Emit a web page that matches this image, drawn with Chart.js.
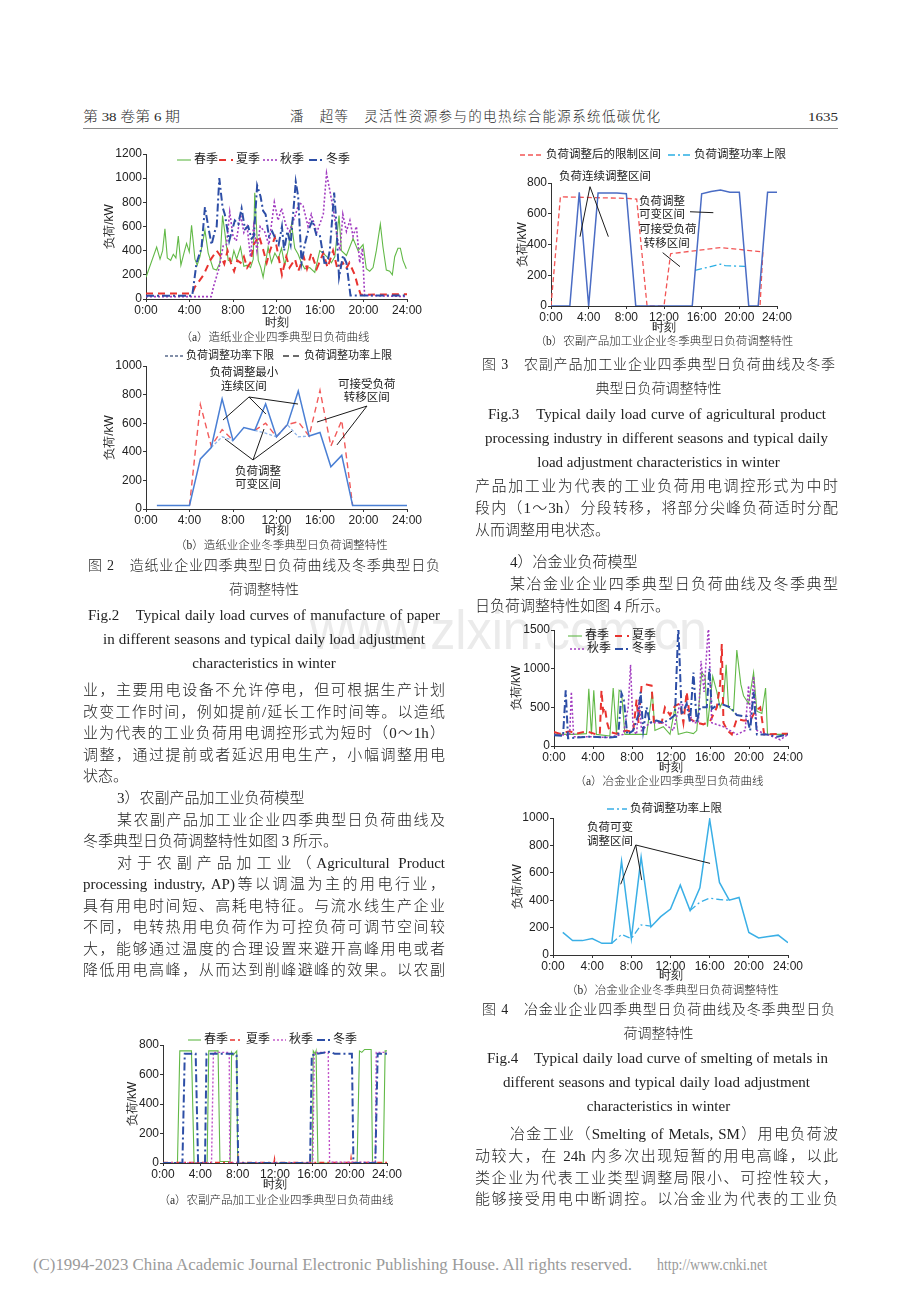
<!DOCTYPE html>
<html lang="zh">
<head>
<meta charset="utf-8">
<title>灵活性资源参与的电热综合能源系统低碳优化</title>
<script src="https://cdn.jsdelivr.net/npm/chart.js@4.4.0/dist/chart.umd.min.js"></script>
<style>
  html, body { margin: 0; padding: 0; background: #fff; }
  #page { position: relative; width: 920px; height: 1302px; overflow: hidden;
          font-family: 'Liberation Serif', 'Noto Sans CJK SC', serif; color: #222; }
  .ln { position: absolute; white-space: nowrap; line-height: 20px; height: 20px; z-index: 2; }
  .hd { font-size: 13.5px; color: #2a2a2a; font-weight: 300; }
  .body { font-size: 15px; font-weight: 300; }
  .cap { font-size: 14px; font-weight: 300; }
  .en { font-size: 15px; }
  .sub { font-size: 11.5px; font-weight: 300; }
  .ft { font-size: 16px; color: #9a9a9a; }
  .wm { font-family: 'Liberation Sans', sans-serif; font-size: 56px; color: #ebebeb; line-height: 60px; height: 60px; z-index: 0; }
  .rule { position: absolute; left: 83px; top: 128px; width: 755px; height: 1px; background: #8a8a8a; }
  canvas { position: absolute; z-index: 1; }
</style>
</head>
<body>
<div id="page"><div class="rule"></div></div>
<script>
const FONT = "'Liberation Serif', 'Noto Sans CJK SC', serif";

// ---------- Fig.2(a) paper industry, four seasons  [hour, kW] ----------
const paperSpring = [[0,180],[0.98,430],[1.29,330],[1.53,400],[1.74,580],[1.96,340],[2.27,320],[2.51,370],[2.75,340],[2.97,520],[3.21,280],[3.49,380],[3.73,460],[3.98,390],[4.19,610],[4.5,330],[4.71,280],[4.96,350],[5.42,570],[5.72,380],[6.18,250],[6.49,240],[6.8,300],[7.04,690],[7.25,550],[7.56,320],[7.87,310],[8.08,400],[8.33,330],[8.69,430],[9.0,270],[9.3,280],[9.61,260],[9.86,330],[10.0,880],[10.32,320],[10.56,260],[10.77,180],[11.23,430],[11.54,300],[11.85,380],[12.15,330],[12.46,420],[12.76,280],[13.1,420],[13.38,620],[13.68,420],[13.99,370],[14.29,300],[14.6,250],[15.06,260],[15.52,220],[15.98,400],[16.28,380],[16.74,340],[17.05,300],[17.36,350],[17.75,690],[17.97,400],[18.43,360],[19.04,500],[19.5,400],[19.96,450],[20.26,250],[20.57,230],[20.88,260],[21.18,400],[21.55,620],[21.79,430],[22.1,240],[22.41,230],[22.65,200],[22.87,350],[23.17,420],[23.39,420],[23.63,320],[23.94,250]];
const paperSummer = [[0,45],[4.25,45],[4.5,100],[5.3,200],[5.9,320],[6.5,400],[6.9,350],[7.2,290],[7.5,400],[7.8,300],[8.1,230],[8.4,320],[8.7,300],[9.0,350],[9.3,260],[9.6,300],[9.9,450],[10.4,520],[10.8,400],[11.1,300],[11.4,400],[11.85,510],[12.5,200],[12.9,350],[13.2,260],[13.7,330],[14.0,230],[14.5,350],[14.8,250],[15.2,380],[15.7,250],[16.3,380],[16.7,260],[17.2,400],[17.6,250],[18.1,300],[18.4,250],[18.7,300],[19.2,200],[19.5,100],[19.75,35],[24,40]];
const paperAutumn = [[0,20],[6.0,20],[6.2,100],[6.7,250],[7.1,440],[7.4,450],[7.7,720],[8.0,520],[8.3,480],[8.7,700],[9.0,550],[9.3,600],[9.6,350],[9.9,600],[10.2,400],[10.5,600],[10.9,560],[11.3,450],[11.8,800],[12.15,650],[12.46,750],[12.9,600],[13.2,560],[13.68,680],[14.1,800],[14.45,770],[14.9,600],[15.2,700],[15.7,550],[16.3,700],[16.6,1040],[16.9,900],[17.3,700],[17.6,500],[17.85,400],[18.1,700],[18.43,560],[18.75,650],[19.04,520],[19.35,600],[19.65,300],[19.9,420],[20.1,30],[24,20]];
const paperWinter = [[0,27],[4.25,27],[4.65,300],[5.1,420],[5.42,760],[5.72,600],[6.03,450],[6.33,560],[6.5,600],[6.74,1000],[7.04,760],[7.25,700],[7.65,480],[8.17,650],[8.48,620],[8.79,750],[9.1,580],[9.4,600],[9.7,500],[9.92,520],[10.22,940],[10.53,850],[10.77,730],[11.0,700],[11.3,520],[11.6,560],[11.9,500],[12.2,450],[12.5,600],[12.7,400],[13.0,560],[13.3,450],[13.77,970],[13.99,850],[14.3,300],[14.6,450],[14.9,560],[15.3,650],[15.67,530],[15.98,530],[16.44,280],[16.74,330],[16.9,400],[17.3,880],[17.45,700],[17.75,180],[18.12,360],[18.43,300],[18.8,30],[24,30]];

// ---------- Fig.2(b) paper industry, winter adjustment (hourly) ----------
const hours = [1,2,3,4,5,6,7,8,9,10,11,12,13,14,15,16,17,18,19,20,21,22,23,24];
const paperLoad  = [25,25,25,25,350,430,770,480,570,550,735,505,590,825,510,535,295,375,25,25,25,25,25,25];
const paperUpper = [null,null,null,25,730,440,555,480,null,550,600,505,590,610,510,830,440,620,25,null,null,null,null,null];
const paperLower = [null,null,null,null,null,430,505,480,null,550,530,505,590,505,510,null,null,null,null,null,null,null,null,null];

// ---------- Fig.3(a) agricultural processing, four seasons ----------
const apSpring = [[0,0],[1.55,0],[1.8,760],[3.05,760],[3.33,0],[4.73,0],[4.9,760],[5.9,760],[6.1,10],[7.2,10],[7.35,750],[7.5,730],[7.9,760],[8.0,0],[16.0,0],[16.1,760],[16.3,740],[16.4,760],[16.6,0],[20.8,0],[21.05,760],[21.3,750],[21.6,770],[22.3,770],[22.45,0],[23.6,0],[23.8,760],[24,760]];
const apSummer = [[0,3],[8.0,3],[8.05,30],[8.1,3],[11.9,3],[11.95,25],[12.0,3],[20.1,3],[20.15,30],[20.2,3],[24,3]];
const apAutumn = [[0,0],[5.2,0],[5.4,750],[7.1,750],[7.15,0],[16.05,0],[16.2,740],[16.5,750],[17.7,750],[17.85,5],[22.75,5],[22.85,750],[24,750]];
const apWinter = [[0,0],[2.08,0],[2.33,740],[3.5,740],[3.76,0],[4.5,0],[4.66,740],[7.6,740],[7.88,730],[8.06,0],[15.76,0],[15.94,730],[16.5,740],[17.9,755],[18.4,740],[20.24,740],[20.4,0],[22.75,0],[23.0,740],[24,740]];

// ---------- Fig.3(b) agricultural processing, winter adjustment ----------
const apLoad  = [[0,0],[2,0],[3,740],[4,0],[5,735],[6,735],[7,735],[8,730],[9,0],[15,0],[16,730],[17,745],[18,755],[19,740],[20,740],[21,0],[22,0],[23,740],[24,740]];
const apLimit = [[0,0],[1.0,710],[8.1,700],[9.1,695],[10.2,0],[12.0,0],[12.7,340],[18,380],[22.5,352],[22.2,0]];
const apUpper = [[15.3,232],[18,272],[18.5,262],[20.6,258]];

// ---------- Fig.4(a) smelting of metals, four seasons ----------
const smSpring = [[0,150],[1.95,150],[3.33,160],[3.57,740],[3.84,150],[4.08,720],[4.35,150],[5.73,130],[6.07,750],[6.41,150],[6.68,720],[6.92,700],[7.27,150],[8.47,150],[9.5,150],[10.08,700],[10.35,200],[11.21,250],[11.9,150],[12.41,500],[12.75,150],[13.61,180],[14.3,160],[14.64,200],[15.15,950],[15.5,900],[15.74,250],[16.28,900],[16.7,700],[17.04,500],[17.38,600],[17.66,1050],[17.9,500],[18.41,450],[18.75,1240],[19.16,800],[19.44,650],[19.95,550],[20.47,950],[20.81,450],[21.32,420],[21.7,750],[21.9,150],[24,150]];
const smSummer = [[0,180],[0.58,160],[1.61,190],[2.3,160],[3.33,190],[4.35,150],[4.7,150],[4.87,720],[5.04,450],[5.21,500],[5.45,300],[5.73,180],[6.4,160],[7.44,200],[8.12,180],[8.47,600],[8.67,300],[8.98,780],[9.32,800],[10.01,780],[10.25,300],[11.04,300],[11.38,500],[11.9,400],[12.41,520],[12.92,550],[13.27,300],[13.61,700],[13.95,350],[14.64,300],[15.32,280],[16.01,320],[16.7,500],[17.04,800],[17.21,1320],[17.38,300],[17.79,200],[18.24,150],[18.75,350],[19.44,330],[20.12,330],[20.64,450],[21.15,500],[21.56,150],[24,160]];
const smAutumn = [[0,150],[1.61,140],[1.78,700],[2.02,120],[3.67,120],[5.38,110],[7.1,150],[7.61,500],[7.85,1050],[8.12,200],[8.47,150],[8.71,600],[8.98,200],[9.84,300],[11.21,300],[12.24,200],[12.92,550],[13.61,500],[14.3,300],[14.81,300],[15.08,1100],[15.39,700],[15.84,1560],[16.18,300],[17.38,250],[18.07,200],[18.75,150],[19.61,200],[19.95,780],[20.19,300],[20.47,900],[20.81,200],[21.84,150],[22.87,100],[23.2,80],[24,150]];
const smWinter = [[0,140],[0.93,130],[1.2,720],[1.44,100],[3.67,120],[5.73,110],[6.58,120],[6.92,680],[7.16,600],[7.51,150],[8.12,200],[8.64,400],[8.88,700],[9.15,200],[9.5,500],[9.84,300],[10.52,330],[11.21,300],[11.9,350],[12.41,400],[12.75,1550],[13.1,400],[13.61,550],[13.95,300],[14.3,950],[14.64,300],[14.98,500],[15.67,500],[15.94,1000],[16.18,480],[17.04,550],[18.07,500],[18.75,400],[19.78,380],[20.12,200],[20.47,700],[20.81,150],[21.84,150],[22.87,120],[24,150]];

// ---------- Fig.4(b) smelting of metals, winter adjustment (hourly) ----------
const smLoad  = [165,105,105,120,85,85,685,120,715,205,280,335,510,325,490,990,530,400,420,165,125,135,145,90];
const smUpper = [null,null,null,null,null,85,150,120,220,210,null,null,null,325,385,415,405,400,null,null,null,null,null,null];

const pairs = arr => arr.map(([x, y]) => ({x, y}));
const byHour = vals => hours.map((h, i) => ({x: h, y: vals[i]}));

function line(label, data, color, width, dash, keyColor) {
    return {label, data, borderColor: color, backgroundColor: color, borderWidth: width, borderDash: dash || [],
            keyColor: keyColor || color, pointRadius: 0, tension: 0, fill: false, spanGaps: false};
}

// legend rows drawn at fixed spots inside each canvas
const keyRows = {
    id: 'keyRows',
    afterDraw(chart, args, opts) {
        if (!opts || !opts.rows) return;
        const ctx = chart.ctx;
        ctx.save();
        ctx.font = `${opts.size || 12}px ${FONT}`;
        ctx.textBaseline = 'middle';
        ctx.fillStyle = '#222';
        opts.rows.forEach(row => {
            row.items.forEach(([idx, x]) => {
                const ds = chart.data.datasets[idx];
                ctx.save();
                ctx.strokeStyle = ds.keyColor;
                ctx.lineWidth = ds.borderWidth;
                ctx.setLineDash(ds.borderDash || []);
                ctx.beginPath();
                ctx.moveTo(x, row.y);
                ctx.lineTo(x + row.sample, row.y);
                ctx.stroke();
                ctx.restore();
                ctx.fillText(ds.label, x + row.sample + 3, row.y);
            });
        });
        ctx.restore();
    }
};

// leader lines and notes, placed in data units
const notes = {
    id: 'notes',
    afterDatasetsDraw(chart, args, opts) {
        if (!opts || !opts.texts) return;
        const {ctx, scales: {x, y}} = chart;
        const px = p => [x.getPixelForValue(p[0]), y.getPixelForValue(p[1])];
        ctx.save();
        ctx.strokeStyle = '#1a1a1a';
        ctx.lineWidth = 1;
        (opts.lines || []).forEach(l => {
            const a = px(l.from);
            l.to.forEach(t => {
                const b = px(t);
                ctx.beginPath();
                ctx.moveTo(a[0], a[1]);
                ctx.lineTo(b[0], b[1]);
                ctx.stroke();
            });
        });
        ctx.font = `${opts.size || 11.5}px ${FONT}`;
        ctx.fillStyle = '#1a1a1a';
        ctx.textAlign = 'center';
        ctx.textBaseline = 'middle';
        opts.texts.forEach(([s, h, v]) => {
            const p = px([h, v]);
            ctx.fillText(s, p[0], p[1]);
        });
        ctx.restore();
    }
};

function buildChart(cfg) {
    const cv = document.createElement('canvas');
    cv.width = cfg.width;
    cv.height = cfg.height;
    cv.style.left = cfg.left + 'px';
    cv.style.top = cfg.top + 'px';
    cv.style.width = cfg.width + 'px';
    cv.style.height = cfg.height + 'px';
    document.getElementById('page').appendChild(cv);
    const p = cfg.plot;
    const yw = p.l - cfg.left;
    const xh = cfg.top + cfg.height - p.b;
    const lh = 12 * 1.2;
    return new Chart(cv, {
        type: 'line',
        data: {datasets: cfg.datasets},
        options: {
            responsive: false,
            animation: false,
            devicePixelRatio: 1,
            layout: {padding: {left: 0, top: p.t - cfg.top, right: cfg.left + cfg.width - p.r, bottom: 0}},
            plugins: {
                legend: {display: false},
                tooltip: {enabled: false},
                keyRows: cfg.legend || {},
                notes: cfg.notes || {}
            },
            scales: {
                x: {
                    type: 'linear', min: 0, max: 24,
                    afterFit: s => { s.height = xh; },
                    ticks: {stepSize: 4, autoSkip: false, maxRotation: 0, padding: 1, color: '#222',
                            font: {size: 12}, callback: v => v + ':00'},
                    grid: {drawOnChartArea: false, tickLength: 3, color: '#333'},
                    border: {color: '#333'},
                    title: {display: true, text: '时刻', color: '#222', font: {size: 12},
                            padding: {top: 0, bottom: cfg.top + cfg.height - cfg.xTitleY - lh / 2}}
                },
                y: {
                    min: 0, max: cfg.yMax,
                    afterFit: s => { s.width = yw; },
                    ticks: {stepSize: cfg.yStep, padding: 1, color: '#222', font: {size: 12}, callback: v => String(v)},
                    grid: {drawOnChartArea: false, tickLength: 3, color: '#333'},
                    border: {color: '#333'},
                    title: {display: true, text: '负荷/kW', color: '#222', font: {size: 12},
                            padding: {top: cfg.yTitleX - cfg.left - lh / 2, bottom: 0}}
                }
            }
        },
        plugins: [keyRows, notes]
    });
}

const GREEN = '#62b947', RED = '#e8332f', PURPLE = '#a23cc0', NAVY = '#2d4ea6';

// Fig.2(a)
buildChart({
    left: 88, top: 145, width: 342, height: 186,
    plot: {l: 146, r: 407, t: 154, b: 299}, yTitleX: 110, xTitleY: 323,
    yMax: 1200, yStep: 200,
    datasets: [
        line('冬季', pairs(paperWinter), NAVY, 2, [8, 3, 2, 3]),
        line('秋季', pairs(paperAutumn), PURPLE, 1.6, [2, 2]),
        line('夏季', pairs(paperSummer), RED, 2, [7, 5]),
        line('春季', pairs(paperSpring), GREEN, 1.1)
    ],
    legend: {size: 12, rows: [{y: 15, sample: 14, items: [[3, 89], [2, 131], [1, 175], [0, 221]]}]}
});

// Fig.2(b)
buildChart({
    left: 88, top: 345, width: 342, height: 194,
    plot: {l: 146, r: 407, t: 366, b: 509}, yTitleX: 110, xTitleY: 531,
    yMax: 1000, yStep: 200,
    datasets: [
        line('冬季典型日负荷', byHour(paperLoad), '#4a7fd4', 1.5),
        line('负荷调整功率下限', byHour(paperLower), '#8db2e8', 1.3, [3, 2], '#5a6b8c'),
        line('负荷调整功率上限', byHour(paperUpper), '#f25a5a', 1.4, [6, 4], '#3a3a3a')
    ],
    legend: {size: 11, rows: [{y: 11, sample: 18, items: [[1, 77], [2, 195]]}]},
    notes: {
        size: 11.5,
        lines: [
            {from: [9.47, 783], to: [[7.08, 622], [11.03, 664], [13.98, 734]]},
            {from: [9.84, 343], to: [[7.26, 490], [10.85, 559], [13.43, 545]]},
            {from: [20.32, 720], to: [[15.72, 608], [17.56, 448]]}
        ],
        texts: [['负荷调整最小', 9.0, 951], ['连续区间', 9.0, 853], ['负荷调整', 10.3, 259], ['可变区间', 10.3, 168],
                ['可接受负荷', 20.3, 867], ['转移区间', 20.3, 776]]
    }
});

// Fig.3(b)
buildChart({
    left: 500, top: 140, width: 312, height: 196,
    plot: {l: 551, r: 777, t: 183, b: 306}, yTitleX: 523, xTitleY: 328,
    yMax: 800, yStep: 200,
    datasets: [
        line('冬季典型日负荷', pairs(apLoad), '#4a6cc4', 1.5),
        line('负荷调整后的限制区间', pairs(apLimit), '#f25555', 1.3, [5, 3]),
        line('负荷调整功率上限', pairs(apUpper), '#2aaee4', 1.3, [7, 3, 2, 3])
    ],
    legend: {size: 11.5, rows: [{y: 15, sample: 23, items: [[1, 20], [2, 168]]}]},
    notes: {
        size: 11.5,
        lines: [
            {from: [4.14, 776], to: [[3.08, 451], [6.09, 451]]},
            {from: [14.76, 613], to: [[17.24, 607]]},
            {from: [11.86, 347], to: [[13.7, 256]]}
        ],
        texts: [['负荷连续调整区间', 5.73, 839], ['负荷调整', 11.8, 676], ['可变区间', 11.8, 592],
                ['可接受负荷', 12.4, 494], ['转移区间', 12.3, 403]]
    }
});

// Fig.3(a)
buildChart({
    left: 110, top: 1030, width: 300, height: 163,
    plot: {l: 163, r: 387, t: 1045, b: 1163}, yTitleX: 133, xTitleY: 1185,
    yMax: 800, yStep: 200,
    datasets: [
        line('冬季', pairs(apWinter), NAVY, 2, [8, 3, 2, 3]),
        line('秋季', pairs(apAutumn), '#c050c8', 1.4, [2, 2]),
        line('夏季', pairs(apSummer), RED, 1.5, [5, 3, 2, 3]),
        line('春季', pairs(apSpring), GREEN, 1.1)
    ],
    legend: {size: 12, rows: [{y: 10, sample: 13, items: [[3, 78], [2, 120], [1, 163], [0, 207]]}]}
});

// Fig.4(a)
buildChart({
    left: 500, top: 612, width: 312, height: 164,
    plot: {l: 554, r: 788, t: 630, b: 746}, yTitleX: 517, xTitleY: 768,
    yMax: 1500, yStep: 500,
    datasets: [
        line('冬季', pairs(smWinter), NAVY, 2, [8, 3, 2, 3]),
        line('秋季', pairs(smAutumn), PURPLE, 1.5, [2, 2]),
        line('夏季', pairs(smSummer), RED, 2, [7, 5]),
        line('春季', pairs(smSpring), GREEN, 1.1)
    ],
    legend: {size: 12, rows: [
        {y: 24, sample: 14, items: [[3, 68], [2, 115]]},
        {y: 37, sample: 14, items: [[1, 70], [0, 115]]}
    ]}
});

// Fig.4(b)
buildChart({
    left: 500, top: 798, width: 312, height: 186,
    plot: {l: 553, r: 788, t: 818, b: 955}, yTitleX: 518, xTitleY: 976,
    yMax: 1000, yStep: 200,
    datasets: [
        line('冬季典型日负荷', byHour(smLoad), '#3aafe6', 1.5),
        line('负荷调整功率上限', byHour(smUpper), '#3aafe6', 1.3, [7, 3, 2, 3])
    ],
    legend: {size: 11.5, rows: [{y: 11, sample: 20, items: [[1, 107]]}]},
    notes: {
        size: 11.5,
        lines: [{from: [8.45, 803], to: [[6.91, 516], [9.06, 547], [16.04, 669]]}],
        texts: [['负荷可变', 5.82, 927], ['调整区间', 5.82, 825]]
    }
});

// ---------- page text: [text, left, centreY, width, class, mode] ----------
const pageLines = [
    ['www.zlxin.com.cn', 310, 630, 397, 'wm', 'fit'],
    ['第 38 卷第 6 期', 83, 117, 97, 'hd', 'fit'],
    ['潘　超等　灵活性资源参与的电热综合能源系统低碳优化', 290, 117, 370, 'hd', 'j'],
    ['1635', 808, 117, 30, 'hd', 'fit'],

    ['（a）造纸业企业四季典型日负荷曲线', 175, 337, 200, 'sub', 'c'],
    ['（b）造纸业企业冬季典型日负荷调整特性', 175, 545, 208, 'sub', 'c'],
    ['图 2　造纸业企业四季典型日负荷曲线及冬季典型日负', 88, 566, 352, 'cap', 'j'],
    ['荷调整特性', 88, 590, 352, 'cap', 'c'],
    ['Fig.2　Typical daily load curves of manufacture of paper', 88, 615, 352, 'en', 'j'],
    ['in different seasons and typical daily load adjustment', 103, 639, 322, 'en', 'j'],
    ['characteristics in winter', 88, 663, 352, 'en', 'c'],

    ['业，主要用电设备不允许停电，但可根据生产计划', 83, 690, 362, 'body', 'j'],
    ['改变工作时间，例如提前/延长工作时间等。以造纸', 83, 712, 362, 'body', 'j'],
    ['业为代表的工业负荷用电调控形式为短时（0～1h）', 83, 733, 362, 'body', 'j'],
    ['调整，通过提前或者延迟用电生产，小幅调整用电', 83, 755, 362, 'body', 'j'],
    ['状态。', 83, 776, 0, 'body', 'l'],
    ['3）农副产品加工业负荷模型', 117, 798, 0, 'body', 'l'],
    ['某农副产品加工业企业四季典型日负荷曲线及', 117, 820, 328, 'body', 'j'],
    ['冬季典型日负荷调整特性如图 3 所示。', 83, 841, 0, 'body', 'l'],
    ['对于农副产品加工业（Agricultural Product', 117, 863, 328, 'body', 'j'],
    ['processing industry, AP)等以调温为主的用电行业，', 83, 884, 362, 'body', 'j'],
    ['具有用电时间短、高耗电特征。与流水线生产企业', 83, 906, 362, 'body', 'j'],
    ['不同，电转热用电负荷作为可控负荷可调节空间较', 83, 927, 362, 'body', 'j'],
    ['大，能够通过温度的合理设置来避开高峰用电或者', 83, 949, 362, 'body', 'j'],
    ['降低用电高峰，从而达到削峰避峰的效果。以农副', 83, 970, 362, 'body', 'j'],
    ['（a）农副产品加工业企业四季典型日负荷曲线', 156, 1200, 240, 'sub', 'c'],

    ['（b）农副产品加工业企业冬季典型日负荷调整特性', 532, 341, 264, 'sub', 'c'],
    ['图 3　农副产品加工业企业四季典型日负荷曲线及冬季', 482, 365, 353, 'cap', 'j'],
    ['典型日负荷调整特性', 482, 389, 353, 'cap', 'c'],
    ['Fig.3　Typical daily load curve of agricultural product', 488, 414, 338, 'en', 'j'],
    ['processing industry in different seasons and typical daily', 485, 438, 343, 'en', 'j'],
    ['load adjustment characteristics in winter', 482, 462, 353, 'en', 'c'],
    ['产品加工业为代表的工业负荷用电调控形式为中时', 475, 486, 363, 'body', 'j'],
    ['段内（1～3h）分段转移，将部分尖峰负荷适时分配', 475, 508, 363, 'body', 'j'],
    ['从而调整用电状态。', 475, 530, 0, 'body', 'l'],
    ['4）冶金业负荷模型', 510, 562, 0, 'body', 'l'],
    ['某冶金业企业四季典型日负荷曲线及冬季典型', 510, 584, 328, 'body', 'j'],
    ['日负荷调整特性如图 4 所示。', 475, 606, 0, 'body', 'l'],
    ['（a）冶金业企业四季典型日负荷曲线', 569, 781, 200, 'sub', 'c'],
    ['（b）冶金业企业冬季典型日负荷调整特性', 566, 990, 210, 'sub', 'c'],
    ['图 4　冶金业企业四季典型日负荷曲线及冬季典型日负', 482, 1010, 353, 'cap', 'j'],
    ['荷调整特性', 482, 1034, 353, 'cap', 'c'],
    ['Fig.4　Typical daily load curve of smelting of metals in', 487, 1058, 341, 'en', 'j'],
    ['different seasons and typical daily load adjustment', 503, 1082, 307, 'en', 'j'],
    ['characteristics in winter', 482, 1106, 353, 'en', 'c'],
    ['冶金工业（Smelting of Metals, SM）用电负荷波', 510, 1134, 328, 'body', 'j'],
    ['动较大，在 24h 内多次出现短暂的用电高峰，以此', 475, 1156, 363, 'body', 'j'],
    ['类企业为代表工业类型调整局限小、可控性较大，', 475, 1178, 363, 'body', 'j'],
    ['能够接受用电中断调控。以冶金业为代表的工业负', 475, 1199, 363, 'body', 'j'],

    ['(C)1994-2023 China Academic Journal Electronic Publishing House. All rights reserved.', 33, 1265, 599, 'ft', 'fit'],
    ['http://www.cnki.net', 657, 1265, 110, 'ft', 'fit']
];

const page = document.getElementById('page');
pageLines.forEach(([text, x, yc, w, cls, mode]) => {
    const el = document.createElement('div');
    el.className = 'ln ' + cls;
    el.textContent = text;
    el.style.left = x + 'px';
    const h = cls === 'wm' ? 60 : 20;
    el.style.top = (yc - h / 2) + 'px';
    page.appendChild(el);
    const nat = el.getBoundingClientRect().width;
    if (mode === 'j') {
        if (nat > w) {
            el.style.transformOrigin = 'left center';
            el.style.transform = `scaleX(${w / nat})`;
        } else {
            el.style.width = w + 'px';
            el.style.textAlign = 'justify';
            el.style.textAlignLast = 'justify';
        }
    } else if (mode === 'c') {
        el.style.width = w + 'px';
        el.style.textAlign = 'center';
    } else if (mode === 'fit') {
        el.style.transformOrigin = 'left center';
        el.style.transform = `scaleX(${w / nat})`;
    }
});
</script>
</body>
</html>
